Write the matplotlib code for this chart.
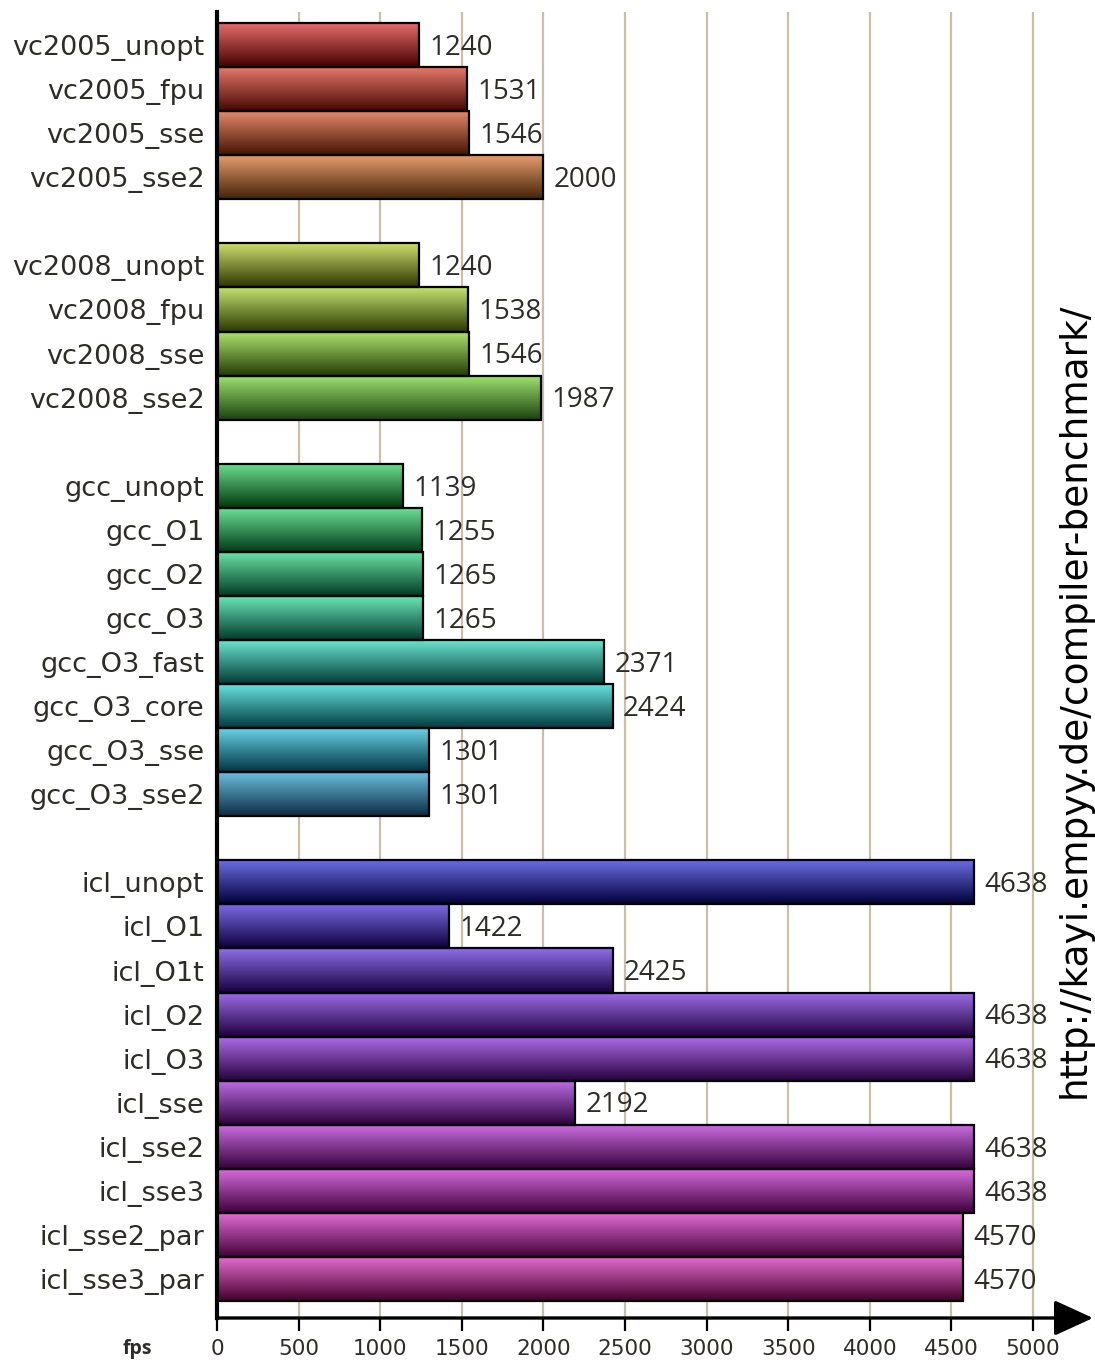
import numpy as np
import matplotlib.pyplot as plt
from matplotlib.colors import to_rgb

names = ['vc2005_unopt', 'vc2005_fpu', 'vc2005_sse', 'vc2005_sse2',
         'vc2008_unopt', 'vc2008_fpu', 'vc2008_sse', 'vc2008_sse2',
         'gcc_unopt', 'gcc_O1', 'gcc_O2', 'gcc_O3', 'gcc_O3_fast', 'gcc_O3_core', 'gcc_O3_sse', 'gcc_O3_sse2',
         'icl_unopt', 'icl_O1', 'icl_O1t', 'icl_O2', 'icl_O3', 'icl_sse', 'icl_sse2', 'icl_sse3',
         'icl_sse2_par', 'icl_sse3_par']
fps = [1240, 1531, 1546, 2000,
       1240, 1538, 1546, 1987,
       1139, 1255, 1265, 1265, 2371, 2424, 1301, 1301,
       4638, 1422, 2425, 4638, 4638, 2192, 4638, 4638, 4570, 4570]
group_sizes = [4, 4, 8, 10]
xticks = np.arange(0, 5001, 500)
url = 'http://kayi.empyy.de/compiler-benchmark/'

# gradient colours of each bar (top, bottom)
top_cols = ['#e86e6e', '#e87a6e', '#e88a70', '#e8a070',
            '#d2e270', '#c2e270', '#b2e472', '#a0e472',
            '#6ee090', '#6ee29a', '#6ee6aa', '#6ee8bc', '#6ee8d2', '#6ae6e2', '#6ad6e8', '#6ec2e2',
            '#6e6ee4', '#7e6ee8', '#8e6ee8', '#9e6ee8', '#ae6ee8', '#be6ee6', '#cc6ee2', '#da6ee0',
            '#e46ed8', '#e66ed0']
bot_cols = ['#460000', '#460800', '#461400', '#462208',
            '#2e3600', '#2c3a00', '#243c04', '#1c420c',
            '#00380e', '#003c16', '#003c22', '#003c2c', '#003c36', '#003c40', '#003444', '#0a2c44',
            '#00003c', '#0c003e', '#16003e', '#1e003e', '#26003e', '#2e003e', '#36003c', '#3e003c',
            '#440036', '#44002e']

# slot positions: one empty slot between groups
pos = []
s = 0
for g in group_sizes:
    pos += list(range(s, s + g))
    s += g + 1
pos = np.array(pos)

W, H = 1095, 1363
fig = plt.figure(figsize=(W / 100, H / 100), dpi=100)
fig.patch.set_facecolor('white')
xmax = 5000 * (1093 - 217) / (1033 - 217)
ax = fig.add_axes([217 / W, 1 - 1318 / H, (1093 - 217) / W, (1318 - 12) / H])

txt_col = '#2e2c28'
plt.rcParams['font.family'] = ['Open Sans', 'DejaVu Sans']

for x in xticks[1:]:
    ax.axvline(x, color='#c8c0a4', lw=1.6, zorder=0)

for p, v, c1, c2 in zip(pos, fps, top_cols, bot_cols):
    t = np.linspace(0, 1, 64)[:, None]
    grad = (1 - t) * np.array(to_rgb(c1)) + t * np.array(to_rgb(c2))
    ax.imshow(grad[:, None, :], extent=(0, v, p + 0.5, p - 0.5), origin='upper',
              aspect='auto', interpolation='bilinear', zorder=2)
ax.barh(pos, fps, height=1.0, fill=False, edgecolor='black', linewidth=1.6, zorder=3)

for p, v in zip(pos, fps):
    ax.annotate(str(v), (v, p), xytext=(7.5, -2), textcoords='offset points',
                ha='left', va='center', fontsize=20, color=txt_col, zorder=4)

ax.set_xlim(0, xmax)
ax.set_ylim(pos[-1] + 0.885, -0.75)
ax.set_yticks(pos)
ax.set_yticklabels(names, fontsize=19.5, color=txt_col)
ax.tick_params(axis='y', length=0, pad=9)
ax.set_xticks(xticks)
ax.set_xticklabels([str(x) for x in xticks], fontsize=15.5, color=txt_col)
ax.tick_params(axis='x', direction='out', length=9, width=1.6, pad=6)

for sp in ['top', 'right', 'bottom']:
    ax.spines[sp].set_visible(False)
ax.spines['left'].set_linewidth(3)
ax.annotate('', xy=(1.0, 0), xytext=(0, 0), xycoords='axes fraction',
            textcoords='axes fraction',
            arrowprops=dict(arrowstyle='-|>,head_length=24,head_width=11',
                            mutation_scale=1, lw=2.4, color='black',
                            shrinkA=0, shrinkB=0), annotation_clip=False)

fig.text(137 / W, 1 - 1349 / H, 'fps', fontsize=14, fontweight='bold',
         ha='center', va='center', color=txt_col)
fig.text(1085 / W, 1 - 700 / H, url, rotation=90, rotation_mode='anchor',
         ha='center', va='baseline', fontsize=27, family='DejaVu Sans', color='black')

fig.savefig('out.png', dpi=100)
